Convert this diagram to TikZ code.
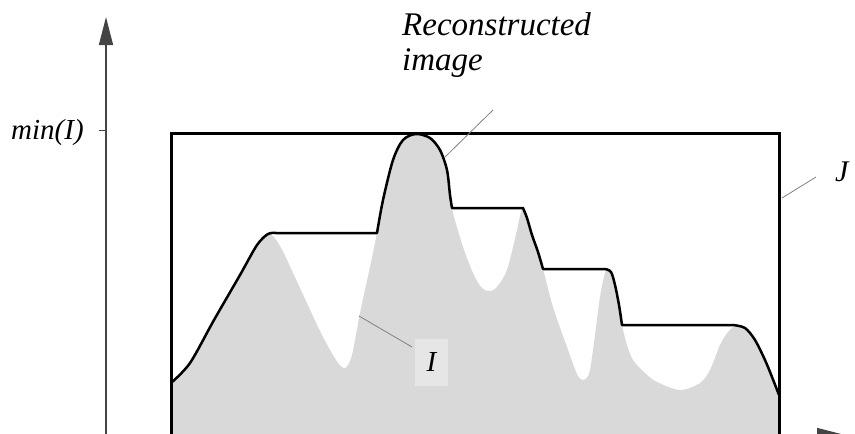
\documentclass[tikz,border=0pt]{standalone}
\usepackage{fontspec}
\setmainfont{Liberation Serif}
\usetikzlibrary{arrows.meta}
\definecolor{axisgray}{HTML}{444444}
\definecolor{leadgray}{HTML}{808080}
\definecolor{sigfill}{HTML}{D9D9D9}
\definecolor{boxfill}{HTML}{E6E6E6}
\begin{document}
\begin{tikzpicture}[x=1pt,y=-1pt,
  axis/.style={draw=axisgray, line width=1.5pt, -{Triangle[length=28pt,width=14pt]}},
  leader/.style={draw=leadgray, line width=0.8pt},
  lbl/.style={font=\fontsize{29}{35}\selectfont\itshape, inner sep=0pt},
  recon/.style={draw=black, line width=2.5pt, line join=round},
  frame/.style={draw=black, line width=3pt},
  sig/.style={fill=sigfill},
]
\useasboundingbox (0,0) rectangle (855,434);
\clip (0,0) rectangle (855,434);
% axes
\coordinate (origin) at (106,435);
\coordinate (ytip) at (106,17);
\coordinate (xtip) at (845,435);
\draw[axis] (origin) -- (ytip);
\draw[axis] (origin) -- (xtip);
\coordinate (tickL) at (99,130);
\coordinate (tickR) at (106,130);
\draw[draw=axisgray, line width=1pt] (tickL) -- (tickR);
\node[lbl, anchor=base west] (minI) at (11,139) {min(I)};
% signal I
\fill[sig] (171,445) -- plot[smooth] coordinates {(171,383) (190,363) (214,320) (240,275) (257,245) (268,233) (280,246) (300,288) (320,331) (336,360) (345,368) (352,355) (360,313) (370,267) (377,233) (383,200) (393,160) (403,140) (416,134) (430,138) (440,150) (447,170) (450,195) (453,213) (463,247) (473,273) (481,287) (488,291) (496,288) (507,270) (517,230) (522,209) (527,218) (532,235) (538,252) (543,269) (553,307) (567,347) (577,374) (583,380) (589,374) (593,350) (600,297) (605,273) (608,268) (612,272) (616,285) (619,305) (622,325) (627,345) (633,360) (645,373) (657,382) (680,390) (700,383) (710,370) (720,345) (728,332) (737,325) (745,328) (755,340) (765,360) (772,377) (779,395)} -- (779,445) -- cycle;
% frame
\draw[frame] (171,445) -- (171,133) -- (779,133) -- (779,445);
% reconstruction
\draw[recon] plot[smooth] coordinates {(171,383) (190,363) (214,320) (240,275) (257,245) (268,234) (276,233)}
  -- (377,233) -- plot[smooth] coordinates {(377,233) (383,200) (393,160) (403,140) (416,134) (430,138) (440,150) (447,170) (450,195) (452,208)}
  -- (523,208) -- plot[smooth] coordinates {(523,208) (527,218) (532,235) (538,252) (543,269)}
  -- (605,269) -- plot[smooth] coordinates {(605,269) (611,272) (615,285) (619,305) (622,325)}
  -- (733,325) -- plot[smooth] coordinates {(733,325) (745,328) (755,340) (765,360) (772,377) (779,395)};
% labels
\node[lbl, font=\fontsize{33}{35}\selectfont\itshape, anchor=base west, align=left] (reclab) at (402,70) {Reconstructed\\image};
\coordinate (recA) at (493,110);
\coordinate (recB) at (445,157);
\draw[leader] (recA) -- (recB);
\node[lbl, font=\fontsize{30}{35}\selectfont\itshape, anchor=base west] (Jlab) at (835,181) {J};
\coordinate (jA) at (816,177);
\coordinate (jB) at (782,198);
\draw[leader] (jA) -- (jB);
\node[lbl, fill=boxfill, minimum width=33pt, minimum height=47pt] (Ilab) at (431.5,362.5) {I};
\coordinate (iA) at (412,347);
\coordinate (iB) at (359,316);
\draw[leader] (iA) -- (iB);
\end{tikzpicture}
\end{document}
